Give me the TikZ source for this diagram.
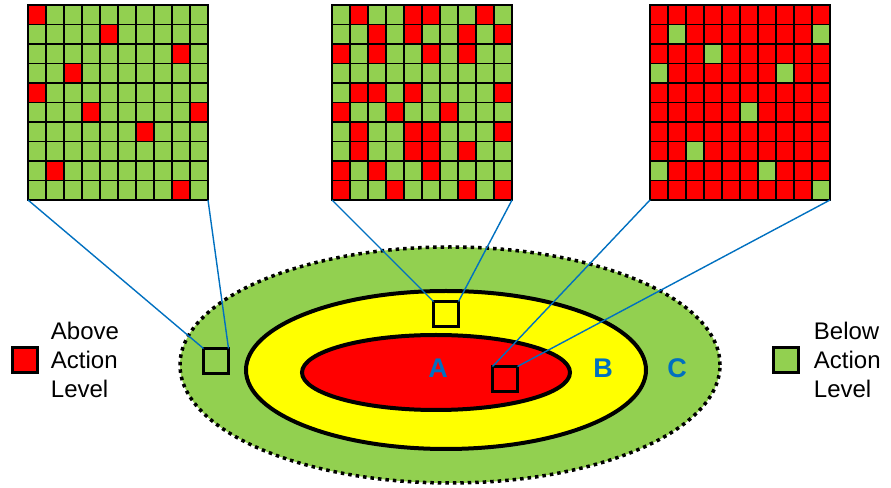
\documentclass[tikz,border=0pt]{standalone}
\usepackage{fontspec}
\setmainfont{Liberation Sans}
\usetikzlibrary{positioning,calc}

\definecolor{okgreen}{HTML}{92D050}
\definecolor{alarmred}{HTML}{FF0000}
\definecolor{zoneyellow}{HTML}{FFFF00}
\definecolor{linkblue}{HTML}{0070C0}

% cells of one sample grid: node, colour of odd cells, list col/row
\newcommand{\samplecells}[3]{%
  \foreach \cx/\ry in {#3}
    \fill[#2] ($(#1.north west)+(\cx*18,-\ry*19.5)$) rectangle ++(18,-19.5);
  \draw[line width=1.2pt, shift={(#1.south west)}] (0,0) grid[xstep=18pt, ystep=19.5pt] (180,195);
  \draw[line width=2.5pt] (#1.south west) rectangle (#1.north east);
}

\begin{document}
\begin{tikzpicture}[
    x=1pt, y=1pt,
    sample/.style={rectangle, minimum width=180pt, minimum height=195pt, inner sep=0pt, outer sep=0pt},
    spot/.style={rectangle, draw, line width=2.2pt, minimum size=25pt, inner sep=0pt, outer sep=0pt},
    key/.style={rectangle, draw, line width=2.5pt, minimum size=25pt, inner sep=0pt},
    keytext/.style={align=left, inner sep=0pt, font=\fontsize{24}{29}\selectfont},
    zone/.style={text=linkblue, inner sep=0pt, font=\fontsize{27}{32}\selectfont\bfseries},
    link/.style={linkblue, line width=1.4pt}
]
    \useasboundingbox (0,0) rectangle (891,487);

    % Zones
    \draw[line width=3.5pt, dash pattern=on 3.5pt off 4pt, fill=okgreen] (450,122) ellipse [x radius=270, y radius=118];
    \draw[line width=4pt, fill=zoneyellow] (446,117) ellipse [x radius=200, y radius=79];
    \draw[line width=4pt, fill=alarmred] (436,114.5) ellipse [x radius=134, y radius=37.5];

    \node[zone] (za) at (438,119) {A};
    \node[zone] (zb) at (603,119) {B};
    \node[zone] (zc) at (677,119) {C};

    % Sample spots
    \node[spot, fill=okgreen] (s1) at (216,126) {};
    \node[spot, fill=zoneyellow] (s2) at (446,173) {};
    \node[spot, fill=alarmred] (s3) at (505,108) {};

    % Sample grids
    \node[sample, fill=okgreen] (g1) at (118,384.5) {};
    \samplecells{g1}{alarmred}{0/0,4/1,8/2,2/3,0/4,3/5,9/5,6/6,1/8,8/9}

    \node[sample, fill=okgreen] (g2) at (422,384.5) {};
    \samplecells{g2}{alarmred}{1/0,4/0,5/0,8/0, 2/1,4/1,7/1,9/1, 0/2,2/2,5/2,7/2,
        1/4,2/4,4/4,9/4, 0/5,3/5,6/5, 1/6,4/6,5/6,9/6, 1/7,4/7,5/7,7/7,
        0/8,2/8,5/8, 0/9,3/9,7/9,9/9}

    \node[sample, fill=alarmred] (g3) at (740,384.5) {};
    \samplecells{g3}{okgreen}{1/1,9/1,3/2,0/3,7/3,5/5,2/7,0/8,6/8,9/9}

    % Links
    \draw[link] (g1.south west) -- (s1.north west);
    \draw[link] (g1.south east) -- (s1.north east);
    \draw[link] (g2.south west) -- (s2.north west);
    \draw[link] (g2.south east) -- (s2.north east);
    \draw[link] (g3.south west) -- (s3.north west);
    \draw[link] (g3.south east) -- (s3.north east);

    % Legend
    \node[key, fill=alarmred] (kred) at (25,127) {};
    \node[keytext, right=12pt of kred] (tred) {Above\\Action\\Level};
    \node[key, fill=okgreen] (kgreen) at (786,127) {};
    \node[keytext, right=14pt of kgreen] (tgreen) {Below\\Action\\Level};
\end{tikzpicture}
\end{document}
